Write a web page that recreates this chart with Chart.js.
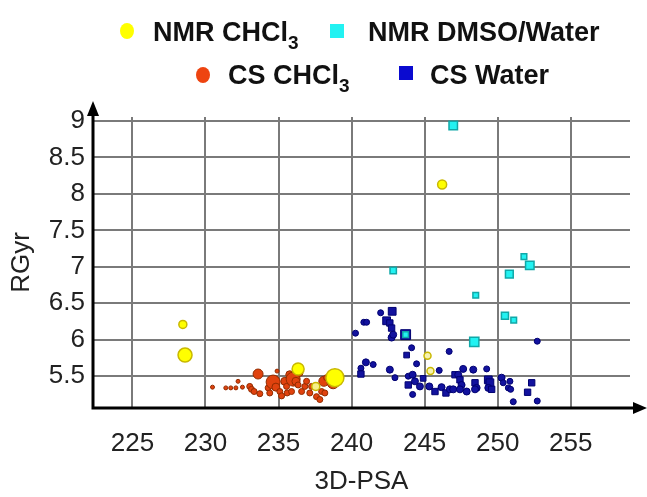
<!DOCTYPE html>
<html>
<head>
<meta charset="utf-8">
<script src="https://cdn.jsdelivr.net/npm/chart.js@4.4.1/dist/chart.umd.min.js"></script>
<style>
  html, body { margin: 0; padding: 0; background: #fff; }
  #wrap { position: relative; width: 647px; height: 497px; }
  #chart { position: absolute; left: 0; top: 0; }
  .lg { position: absolute; font-family: "Liberation Sans", Arial, sans-serif; font-weight: bold;
        font-size: 27px; color: #111; white-space: nowrap; line-height: 1; }
  .lg sub { font-size: 19px; vertical-align: -8px; line-height: 0; }
  .mk { position: absolute; }
</style>
</head>
<body>
<div id="wrap">
  <canvas id="chart" width="647" height="497"></canvas>
  <div class="mk" style="left:120px;top:23px;width:14px;height:16px;border-radius:50%;background:#ffff00;"></div>
  <div class="lg" style="left:153px;top:19px;">NMR CHCl<sub>3</sub></div>
  <div class="mk" style="left:330px;top:24px;width:14px;height:14px;background:#22f2f2;"></div>
  <div class="lg" style="left:368px;top:19px;">NMR DMSO/Water</div>
  <div class="mk" style="left:196px;top:67px;width:14px;height:16px;border-radius:50%;background:#ee4410;"></div>
  <div class="lg" style="left:228px;top:62px;">CS CHCl<sub>3</sub></div>
  <div class="mk" style="left:399px;top:66px;width:14px;height:14px;background:#0a0ad0;"></div>
  <div class="lg" style="left:430px;top:62px;">CS Water</div>
</div>
<script>
// tick values
const xTicks = [225, 230, 235, 240, 245, 250, 255];
const yTicks = [5.5, 6, 6.5, 7, 7.5, 8, 8.5, 9];

// NMR CHCl3 (yellow circles)
const nmrChclX = [228.45, 228.6, 236.34, 238.86, 237.55, 245.2, 245.4, 246.2];
const nmrChclY = [6.21, 5.79, 5.60, 5.48, 5.36, 5.78, 5.57, 8.13];
const nmrChclR = [4, 7, 6, 9, 4, 3.5, 3.5, 4.5];
const nmrChclFill = ['#ffff00', '#ffff00', '#ffff00', '#ffff00', '#f6f08a', '#f6f2b0', '#f6f2b0', '#ffff00'];

// NMR DMSO/Water (cyan squares)
const nmrWaterX = [246.96, 242.85, 243.7, 248.5, 248.4, 250.5, 251.1, 250.8, 252.2, 251.8];
const nmrWaterY = [8.94, 6.95, 6.07, 6.61, 5.97, 6.33, 6.27, 6.90, 7.02, 7.14];
const nmrWaterR = [6, 4.5, 4, 4, 6.5, 5, 4, 5.5, 6, 4];

// CS CHCl3 (orange circles)
const csChclX = [230.48, 231.39, 231.73, 232.08, 232.23, 232.53, 233.03, 233.15, 233.33, 233.60,
  233.72, 234.29, 234.40, 234.63, 234.82, 234.90, 235.09, 235.21, 235.43, 235.55,
  235.59, 235.77, 236.00, 236.19, 236.34, 235.89, 236.46, 236.58, 236.80, 236.92,
  237.14, 237.26, 237.60, 237.83, 237.95, 238.10, 238.17, 238.29, 238.74];
const csChclY = [5.35, 5.34, 5.34, 5.34, 5.43, 5.35, 5.36, 5.32, 5.29, 5.53,
  5.26, 5.34, 5.27, 5.42, 5.35, 5.57, 5.29, 5.23, 5.43, 5.36,
  5.27, 5.52, 5.46, 5.43, 5.38, 5.29, 5.54, 5.29, 5.36, 5.43,
  5.27, 5.36, 5.22, 5.18, 5.29, 5.43, 5.27, 5.48, 5.41];
const csChclR = [2, 2, 2, 2, 2, 2, 3, 3, 3, 5,
  3, 3, 3, 7, 4, 2, 3, 3, 4, 3,
  3, 4, 7, 4, 3, 3, 3, 3, 3, 3,
  3, 3, 3, 3, 3, 5, 3, 3, 6];

// CS Water (blue)
const csWaterX = [241.99, 242.78, 242.40, 242.62, 242.74, 240.84, 241.03, 240.27, 242.74, 242.85,
  243.70, 244.11, 243.77, 244.45, 240.98, 241.48, 240.64, 240.64, 242.62, 242.97,
  243.88, 244.18, 244.34, 244.90, 243.88, 244.68, 244.18, 245.32, 245.71, 246.00,
  246.68, 246.16, 246.46, 246.73, 247.08, 246.96, 247.30, 247.42, 247.53, 247.42,
  247.88, 247.64, 248.33, 248.45, 248.56, 248.45, 249.25, 249.36, 249.47, 249.36,
  249.59, 250.27, 250.38, 250.84, 250.73, 250.89, 252.33, 252.05, 251.07, 252.71, 252.71];
const csWaterY = [6.37, 6.39, 6.26, 6.23, 6.16, 6.24, 6.24, 6.09, 6.03, 6.07,
  6.07, 5.89, 5.79, 5.67, 5.69, 5.66, 5.61, 5.53, 5.59, 5.48,
  5.50, 5.52, 5.43, 5.47, 5.38, 5.36, 5.25, 5.36, 5.29, 5.58,
  5.84, 5.35, 5.27, 5.32, 5.52, 5.32, 5.52, 5.45, 5.38, 5.32,
  5.29, 5.60, 5.59, 5.41, 5.34, 5.32, 5.60, 5.45, 5.41, 5.34,
  5.32, 5.48, 5.41, 5.43, 5.34, 5.32, 5.41, 5.28, 5.15, 5.16, 5.98];
const csWaterR = [3, 5.5, 5.5, 4.5, 4.5, 3, 3, 3, 3.5, 3.5,
  7, 3, 4, 3, 3.5, 3, 3, 4.5, 3.5, 3,
  3, 3.5, 3.5, 4, 4.5, 3.5, 3, 3.5, 4.5, 3,
  3, 3.5, 4.5, 3.5, 4.5, 3.5, 3.5, 4.5, 3.5, 3.5,
  3.5, 3.5, 3.5, 4.5, 3.5, 3.5, 3, 5.5, 5.5, 3.5,
  4.5, 3.5, 3, 3, 3, 3, 4.5, 4.5, 3, 3, 3];

function pts(xs, ys) {
  return xs.map((x, i) => ({ x: x, y: ys[i] }));
}

// axis lines with arrow heads
const arrowAxes = {
  id: 'arrowAxes',
  afterDraw(chart) {
    const ctx = chart.ctx;
    const a = chart.chartArea;
    ctx.save();
    ctx.strokeStyle = '#000';
    ctx.fillStyle = '#000';
    ctx.lineWidth = 3;
    ctx.beginPath();
    ctx.moveTo(a.left, a.bottom);
    ctx.lineTo(636, a.bottom);
    ctx.moveTo(a.left, a.bottom + 1.5);
    ctx.lineTo(a.left, 110);
    ctx.stroke();
    ctx.beginPath();
    ctx.moveTo(647, a.bottom);
    ctx.lineTo(633, a.bottom - 6);
    ctx.lineTo(633, a.bottom + 6);
    ctx.closePath();
    ctx.fill();
    ctx.beginPath();
    ctx.moveTo(a.left, 101);
    ctx.lineTo(a.left - 6, 116);
    ctx.lineTo(a.left + 6, 116);
    ctx.closePath();
    ctx.fill();
    ctx.restore();
  }
};

new Chart(document.getElementById('chart'), {
  type: 'scatter',
  data: {
    datasets: [
      {
        label: 'NMR CHCl3',
        data: pts(nmrChclX, nmrChclY),
        pointStyle: 'circle',
        pointRadius: nmrChclR,
        backgroundColor: nmrChclFill,
        borderColor: '#c9b800',
        borderWidth: 1.5
      },
      {
        label: 'NMR DMSO/Water',
        data: pts(nmrWaterX, nmrWaterY),
        pointStyle: 'rect',
        pointRadius: nmrWaterR,
        backgroundColor: '#22f2f2',
        borderColor: '#10a8a8',
        borderWidth: 1.5
      },
      {
        label: 'CS CHCl3',
        data: pts(csChclX, csChclY),
        pointStyle: 'circle',
        pointRadius: csChclR,
        backgroundColor: '#e0420e',
        borderColor: '#922c00',
        borderWidth: 1
      },
      {
        label: 'CS Water',
        data: pts(csWaterX, csWaterY),
        pointStyle: csWaterR.map(r => r >= 4 ? 'rect' : 'circle'),
        pointRadius: csWaterR,
        backgroundColor: '#12129e',
        borderColor: '#000070',
        borderWidth: 1
      }
    ]
  },
  options: {
    responsive: false,
    animation: false,
    events: [],
    layout: { padding: { top: 117, right: 17, left: 0, bottom: 0 } },
    plugins: { legend: { display: false }, tooltip: { enabled: false } },
    scales: {
      x: {
        type: 'linear',
        min: 222.3,
        max: 259.06,
        afterBuildTicks: s => { s.ticks = xTicks.map(v => ({ value: v })); },
        afterFit: s => { s.height = 89; },
        grid: { color: '#7a7a7a', lineWidth: 2, drawTicks: false },
        border: { display: false },
        ticks: {
          padding: 20,
          color: '#222',
          font: { family: 'Liberation Sans, Arial', size: 26 },
          callback: v => String(v)
        },
        title: {
          display: true,
          text: '3D-PSA',
          color: '#222',
          padding: { top: 0, bottom: 0 },
          font: { family: 'Liberation Sans, Arial', size: 26 }
        }
      },
      y: {
        type: 'linear',
        min: 5.064,
        max: 9.055,
        afterBuildTicks: s => { s.ticks = yTicks.map(v => ({ value: v })); },
        afterFit: s => { s.width = 93; },
        grid: { color: '#7a7a7a', lineWidth: 2, drawTicks: false },
        border: { display: false },
        ticks: {
          padding: 8,
          color: '#222',
          font: { family: 'Liberation Sans, Arial', size: 26 },
          callback: v => String(v)
        },
        title: {
          display: true,
          text: 'RGyr',
          color: '#222',
          padding: { top: 6, bottom: 0 },
          font: { family: 'Liberation Sans, Arial', size: 26 }
        }
      }
    }
  },
  plugins: [arrowAxes]
});
</script>
</body>
</html>
